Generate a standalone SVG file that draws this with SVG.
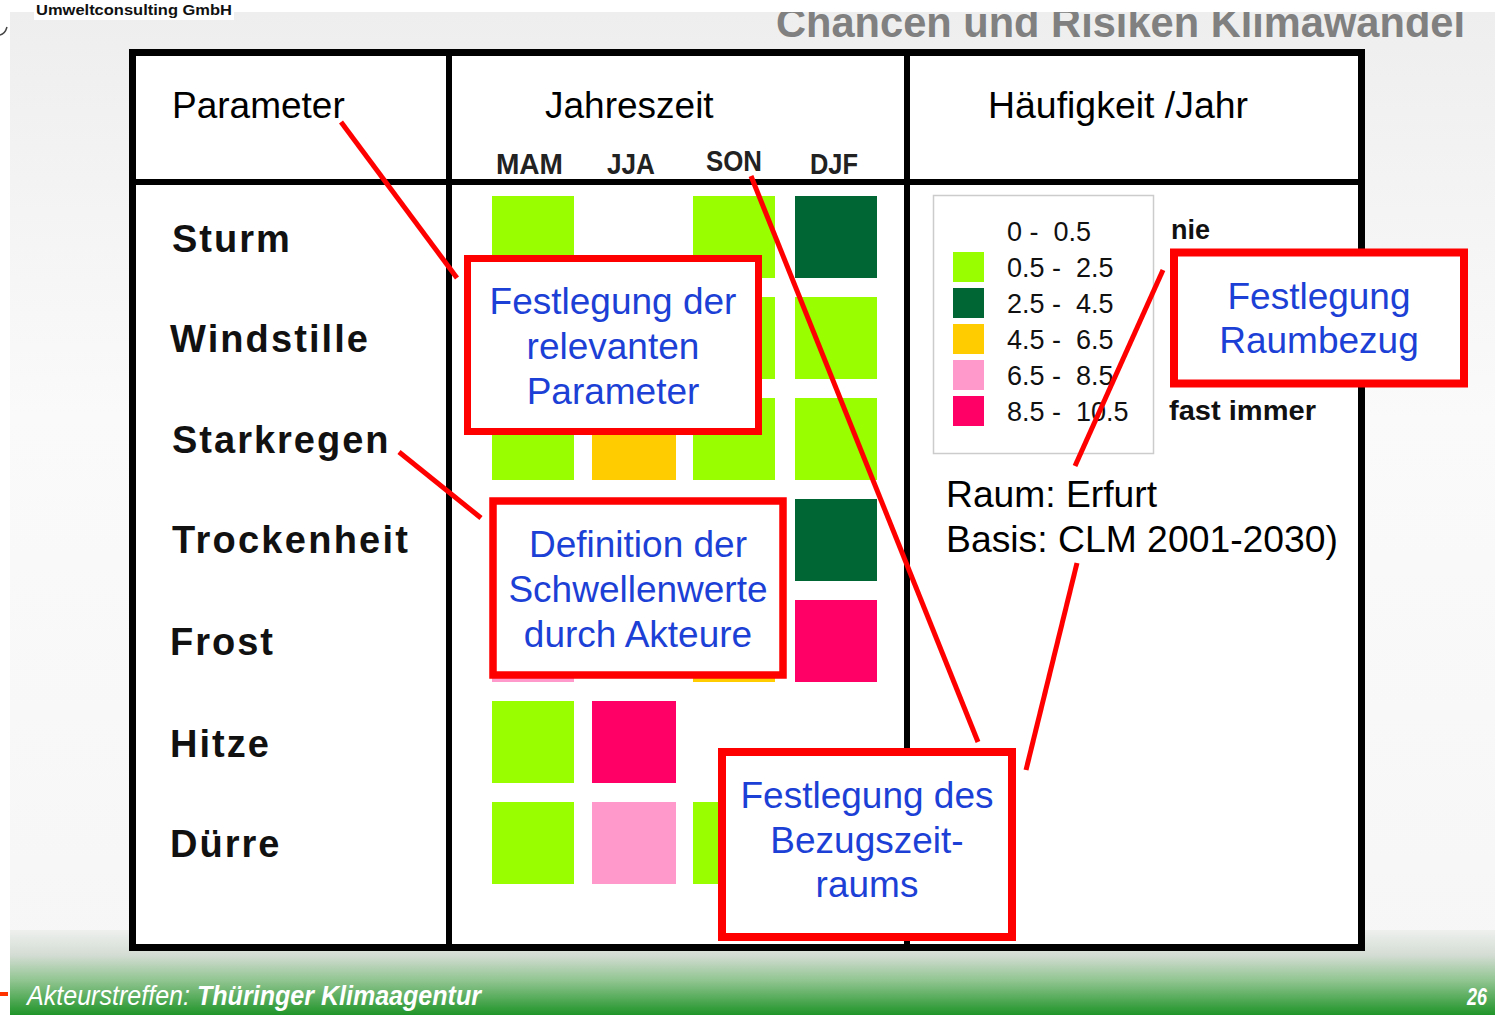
<svg xmlns="http://www.w3.org/2000/svg" width="1495" height="1015" viewBox="0 0 1495 1015">
  <defs>
    <linearGradient id="bg" x1="0" y1="0" x2="0" y2="1">
      <stop offset="0" stop-color="#eeeeee"/>
      <stop offset="0.4" stop-color="#fafafa"/>
      <stop offset="1" stop-color="#f6f6f6"/>
    </linearGradient>
    <linearGradient id="foot" x1="0" y1="0" x2="0" y2="1">
      <stop offset="0" stop-color="#eef0ee"/>
      <stop offset="0.3" stop-color="#d3dcd3"/>
      <stop offset="0.6" stop-color="#8fc48f"/>
      <stop offset="1" stop-color="#1f9428"/>
    </linearGradient>
    <clipPath id="topclip"><rect x="0" y="12" width="1495" height="60"/></clipPath>
    <style>
      .sans { font-family: "Liberation Sans", Arial, sans-serif; }
      .hdr { font-family: "Liberation Sans", Arial, sans-serif; font-size: 37px; fill: #000; }
      .season { font-family: "Liberation Sans", Arial, sans-serif; font-size: 29px; font-weight: bold; fill: #222; }
      .row { font-family: "Liberation Sans", Arial, sans-serif; font-size: 38px; font-weight: bold; fill: #111; letter-spacing: 2px; }
      .leg { font-family: "Liberation Sans", Arial, sans-serif; font-size: 27px; fill: #111; }
      .legb { font-family: "Liberation Sans", Arial, sans-serif; font-size: 27px; font-weight: bold; fill: #111; }
      .info { font-family: "Liberation Sans", Arial, sans-serif; font-size: 36px; fill: #000; }
      .tline { stroke: #000; stroke-width: 6; fill: none; }
      .g { fill: #99ff00; }
      .dg { fill: #006633; }
      .or { fill: #ffcc00; }
      .pk { fill: #ff99cc; }
      .mg { fill: #ff0066; }
      .callout rect { fill: #fff; stroke: #ff0000; }
      .callout text { font-family: "Liberation Sans", Arial, sans-serif; font-size: 37px; fill: #1c3fd6; text-anchor: middle; }
      .conn line { stroke: #ff0000; stroke-width: 5; stroke-linecap: butt; }
    </style>
  </defs>

  <!-- background -->
  <rect x="0" y="0" width="1495" height="1015" fill="#ffffff"/>
  <rect x="10" y="12" width="1485" height="1003" fill="url(#bg)"/>
  <rect x="10" y="930" width="1485" height="85" fill="url(#foot)"/>
  <rect x="0" y="992" width="8" height="4" fill="#ff3300"/>
  <path d="M 7 27 Q 5 34 0 35" stroke="#444" stroke-width="1.5" fill="none"/>

  <!-- page header -->
  <g id="company">
    <rect x="34" y="0" width="200" height="20" fill="#ffffff"/>
    <text x="36" y="15" class="sans" font-size="15" font-weight="bold" fill="#111" textLength="196" lengthAdjust="spacingAndGlyphs">Umweltconsulting GmbH</text>
  </g>
  <g id="title" clip-path="url(#topclip)">
    <text x="776" y="37" class="sans" font-size="42" font-weight="bold" fill="#808080" textLength="689" lengthAdjust="spacingAndGlyphs">Chancen und Risiken Klimawandel</text>
  </g>

  <!-- table -->
  <g id="table">
    <rect x="132.5" y="52.5" width="1229" height="895" fill="#ffffff" stroke="#000" stroke-width="7"/>
    <line class="tline" x1="132" y1="182" x2="1361" y2="182"/>
    <line class="tline" x1="449" y1="52" x2="449" y2="948"/>
    <line class="tline" x1="907" y1="52" x2="907" y2="948"/>
  </g>

  <g id="header-parameter">
    <text class="hdr" x="172" y="118">Parameter</text>
  </g>
  <g id="header-jahreszeit">
    <text class="hdr" x="545" y="118">Jahreszeit</text>
    <text class="season" x="496" y="174" textLength="67" lengthAdjust="spacingAndGlyphs">MAM</text>
    <text class="season" x="607" y="174" textLength="48" lengthAdjust="spacingAndGlyphs">JJA</text>
    <text class="season" x="706" y="171" textLength="56" lengthAdjust="spacingAndGlyphs">SON</text>
    <text class="season" x="810" y="174" textLength="48" lengthAdjust="spacingAndGlyphs">DJF</text>
  </g>
  <g id="header-haeufigkeit">
    <text class="hdr" x="988" y="118" textLength="260" lengthAdjust="spacingAndGlyphs">Häufigkeit /Jahr</text>
  </g>

  <!-- parameter rows -->
  <g id="row-sturm">
    <text class="row" x="172" y="252">Sturm</text>
    <rect class="g" x="492" y="196" width="82" height="82"/>
    <rect class="g" x="693" y="196" width="82" height="82"/>
    <rect class="dg" x="795" y="196" width="82" height="82"/>
  </g>
  <g id="row-windstille">
    <text class="row" x="170" y="352" textLength="200">Windstille</text>
    <rect class="g" x="693" y="297" width="82" height="82"/>
    <rect class="g" x="795" y="297" width="82" height="82"/>
  </g>
  <g id="row-starkregen">
    <text class="row" x="172" y="453">Starkregen</text>
    <rect class="g" x="492" y="398" width="82" height="82"/>
    <rect class="or" x="592" y="398" width="84" height="82"/>
    <rect class="g" x="693" y="398" width="82" height="82"/>
    <rect class="g" x="795" y="398" width="82" height="82"/>
  </g>
  <g id="row-trockenheit">
    <text class="row" x="172" y="553" textLength="238">Trockenheit</text>
    <rect class="dg" x="795" y="499" width="82" height="82"/>
  </g>
  <g id="row-frost">
    <text class="row" x="170" y="655">Frost</text>
    <rect class="pk" x="492" y="600" width="82" height="82"/>
    <rect class="or" x="693" y="600" width="82" height="82"/>
    <rect class="mg" x="795" y="600" width="82" height="82"/>
  </g>
  <g id="row-hitze">
    <text class="row" x="170" y="757">Hitze</text>
    <rect class="g" x="492" y="701" width="82" height="82"/>
    <rect class="mg" x="592" y="701" width="84" height="82"/>
  </g>
  <g id="row-duerre">
    <text class="row" x="170" y="857">Dürre</text>
    <rect class="g" x="492" y="802" width="82" height="82"/>
    <rect class="pk" x="592" y="802" width="84" height="82"/>
    <rect class="g" x="693" y="802" width="82" height="82"/>
  </g>

  <!-- legend -->
  <g id="legend">
    <rect x="933.5" y="195.5" width="220" height="258" fill="#ffffff" stroke="#cccccc" stroke-width="1.5"/>
    <rect class="g" x="953" y="252" width="31" height="30"/>
    <rect class="dg" x="953" y="288" width="31" height="30"/>
    <rect class="or" x="953" y="324" width="31" height="30"/>
    <rect class="pk" x="953" y="360" width="31" height="30"/>
    <rect class="mg" x="953" y="396" width="31" height="30"/>
    <text class="leg" x="1007" y="241" xml:space="preserve">0 -  0.5</text>
    <text class="leg" x="1007" y="277" xml:space="preserve">0.5 -  2.5</text>
    <text class="leg" x="1007" y="313" xml:space="preserve">2.5 -  4.5</text>
    <text class="leg" x="1007" y="349" xml:space="preserve">4.5 -  6.5</text>
    <text class="leg" x="1007" y="385" xml:space="preserve">6.5 -  8.5</text>
    <text class="leg" x="1007" y="421" xml:space="preserve">8.5 -  10.5</text>
    <text class="legb" x="1171" y="239">nie</text>
    <text class="legb" x="1169" y="420" textLength="147" lengthAdjust="spacingAndGlyphs">fast immer</text>
  </g>

  <g id="info">
    <text class="info" x="946" y="507" textLength="211" lengthAdjust="spacingAndGlyphs">Raum: Erfurt</text>
    <text class="info" x="946" y="552" textLength="392" lengthAdjust="spacingAndGlyphs">Basis: CLM 2001-2030)</text>
  </g>

  <!-- connectors -->
  <g id="connectors" class="conn">
    <line x1="341" y1="122" x2="457" y2="278"/>
    <line x1="399" y1="452" x2="481" y2="518"/>
    <line x1="751" y1="176" x2="978" y2="742"/>
    <line x1="1163" y1="270" x2="1075" y2="466"/>
    <line x1="1077" y1="563" x2="1026" y2="770"/>
  </g>

  <!-- callouts -->
  <g id="callout-parameter" class="callout">
    <rect x="467.5" y="258.5" width="291" height="173" stroke-width="7"/>
    <text x="613" y="314">Festlegung der</text>
    <text x="613" y="359">relevanten</text>
    <text x="613" y="404">Parameter</text>
  </g>
  <g id="callout-schwellenwerte" class="callout">
    <rect x="493" y="501" width="290" height="174" stroke-width="7.5"/>
    <text x="638" y="557">Definition der</text>
    <text x="638" y="602">Schwellenwerte</text>
    <text x="638" y="647">durch Akteure</text>
  </g>
  <g id="callout-bezugszeitraum" class="callout">
    <rect x="722" y="752" width="290" height="185" stroke-width="8"/>
    <text x="867" y="808">Festlegung des</text>
    <text x="867" y="853">Bezugszeit-</text>
    <text x="867" y="897">raums</text>
  </g>
  <g id="callout-raumbezug" class="callout">
    <rect x="1174" y="252.5" width="290" height="131" stroke-width="8"/>
    <text x="1319" y="309">Festlegung</text>
    <text x="1319" y="353">Raumbezug</text>
  </g>

  <!-- footer -->
  <g id="footer">
    <text x="27" y="1005" class="sans" font-size="27" font-style="italic" fill="#ffffff" textLength="163" lengthAdjust="spacingAndGlyphs">Akteurstreffen:</text>
    <text x="197" y="1005" class="sans" font-size="27" font-style="italic" font-weight="bold" fill="#ffffff" textLength="284" lengthAdjust="spacingAndGlyphs">Thüringer Klimaagentur</text>
    <text x="1467" y="1005" class="sans" font-size="24" font-style="italic" font-weight="bold" fill="#ffffff" textLength="20" lengthAdjust="spacingAndGlyphs">26</text>
  </g>
</svg>
